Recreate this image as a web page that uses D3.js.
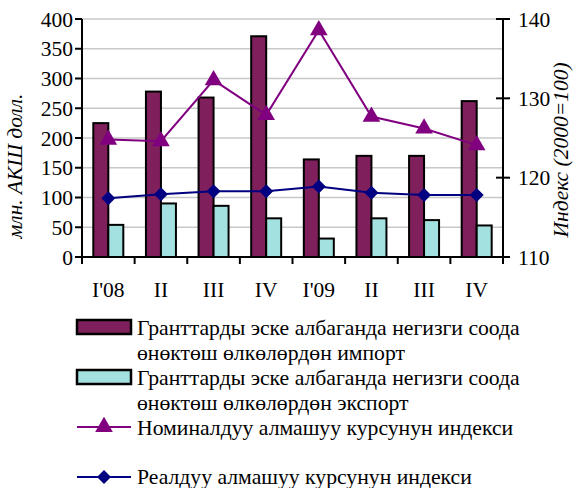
<!DOCTYPE html>
<html><head><meta charset="utf-8">
<script src="https://cdn.jsdelivr.net/npm/d3@7"></script>
<style>body{margin:0;background:#fff}svg{display:block}text{font-family:"Liberation Serif","Times New Roman",serif;fill:#000}</style>
</head><body><svg id="c" width="573" height="488"></svg>
<script>
const categories = ["I'08","II","III","IV","I'09","II","III","IV"];
const importVals = [225, 278, 268, 371, 164, 170, 170, 262];
const exportVals = [54, 90, 86, 65, 31, 65, 62, 53];
const nominalIdx = [124.8, 124.6, 132.3, 127.9, 138.6, 127.7, 126.2, 124.1];
const realIdx = [117.4, 117.9, 118.3, 118.3, 118.9, 118.1, 117.8, 117.8];
const leftTicks = [0,50,100,150,200,250,300,350,400];
const rightTicks = [110,120,130,140];
const legendLabels = [
  ["Гранттарды эске албаганда негизги соода","өнөктөш өлкөлөрдөн импорт"],
  ["Гранттарды эске албаганда негизги соода","өнөктөш өлкөлөрдөн экспорт"],
  ["Номиналдуу алмашуу курсунун индекси"],
  ["Реалдуу алмашуу курсунун индекси"]
];
const colImport = "#7f1f5c", colExport = "#a3e1e1", colNom = "#800080", colReal = "#000080";

const svg = d3.select("#c");
const L = 82, R = 503, T = 19, B = 257;
const x = d3.scaleBand().domain(d3.range(categories.length)).range([L, R]).paddingInner(0).paddingOuter(0);
const yL = d3.scaleLinear().domain([0,400]).range([B,T]);
const yR = d3.scaleLinear().domain([110,140]).range([B,T]);
const bw = 15;

// gridlines
svg.append("g").selectAll("line").data(leftTicks.filter(d=>d>0)).join("line")
  .attr("x1",L).attr("x2",R).attr("y1",d=>yL(d)).attr("y2",d=>yL(d))
  .attr("stroke","#c8c8c8").attr("stroke-width",1.5);

// bars
const gb = svg.append("g");
gb.selectAll(".imp").data(importVals).join("rect")
  .attr("x",(d,i)=>x(i)+x.bandwidth()/2-bw).attr("width",bw)
  .attr("y",d=>yL(d)).attr("height",d=>B-yL(d))
  .attr("fill",colImport).attr("stroke","#000").attr("stroke-width",2);
gb.selectAll(".exp").data(exportVals).join("rect")
  .attr("x",(d,i)=>x(i)+x.bandwidth()/2).attr("width",bw)
  .attr("y",d=>yL(d)).attr("height",d=>B-yL(d))
  .attr("fill",colExport).attr("stroke","#000").attr("stroke-width",2);

// axes
const ax = svg.append("g").attr("stroke","#000").attr("stroke-width",2);
ax.append("line").attr("x1",L).attr("x2",L).attr("y1",T).attr("y2",B);
ax.append("line").attr("x1",R).attr("x2",R).attr("y1",T).attr("y2",B);
ax.append("line").attr("x1",L-7).attr("x2",R+7).attr("y1",B).attr("y2",B);
ax.selectAll(".lt").data(leftTicks).join("line").attr("x1",L-7).attr("x2",L).attr("y1",d=>yL(d)).attr("y2",d=>yL(d));
ax.selectAll(".rt").data(rightTicks).join("line").attr("x1",R-7).attr("x2",R+7).attr("y1",d=>yR(d)).attr("y2",d=>yR(d));
ax.selectAll(".xt").data(d3.range(categories.length+1)).join("line")
  .attr("x1",i=>L+i*x.bandwidth()).attr("x2",i=>L+i*x.bandwidth()).attr("y1",B).attr("y2",B+7);

const fs = 21.5;
svg.append("g").selectAll("text").data(leftTicks).join("text")
  .attr("x",L-9).attr("y",d=>yL(d)).attr("dy","0.35em").attr("text-anchor","end")
  .attr("font-size",fs).text(d=>d);
svg.append("g").selectAll("text").data(rightTicks).join("text")
  .attr("x",R+15).attr("y",d=>yR(d)).attr("dy","0.35em").attr("text-anchor","start")
  .attr("font-size",fs).text(d=>d);
svg.append("g").selectAll("text").data(categories).join("text")
  .attr("x",(d,i)=>x(i)+x.bandwidth()/2).attr("y",297).attr("text-anchor","middle")
  .attr("font-size",fs).text(d=>d);

svg.append("text").attr("transform","translate(22,166) rotate(-90)").attr("text-anchor","middle")
  .attr("font-size",fs).attr("font-style","italic").text("млн. АКШ  долл.");
svg.append("text").attr("transform","translate(561,150) rotate(-90)").attr("text-anchor","middle")
  .attr("dy","0.32em").attr("font-size",fs).attr("font-style","italic").text("Индекс (2000=100)");

// lines
const cx = i=>x(i)+x.bandwidth()/2;
svg.append("path").datum(nominalIdx).attr("fill","none").attr("stroke",colNom).attr("stroke-width",2)
  .attr("d",d3.line().x((d,i)=>cx(i)).y(d=>yR(d)));
svg.append("g").selectAll("path").data(nominalIdx).join("path")
  .attr("transform",(d,i)=>`translate(${cx(i)},${yR(d)})`)
  .attr("d",d3.symbol(d3.symbolTriangle,135)).attr("fill",colNom);
svg.append("path").datum(realIdx).attr("fill","none").attr("stroke",colReal).attr("stroke-width",2)
  .attr("d",d3.line().x((d,i)=>cx(i)).y(d=>yR(d)));
svg.append("g").selectAll("path").data(realIdx).join("path")
  .attr("transform",(d,i)=>`translate(${cx(i)},${yR(d)}) rotate(45)`)
  .attr("d",d3.symbol(d3.symbolSquare,98)).attr("fill",colReal);

// legend
const lg = svg.append("g");
const lx = 77, tx = 137;
lg.append("rect").attr("x",lx).attr("y",320).attr("width",54).attr("height",14).attr("fill",colImport).attr("stroke","#000").attr("stroke-width",2.5);
lg.append("rect").attr("x",lx).attr("y",370).attr("width",54).attr("height",14).attr("fill",colExport).attr("stroke","#000").attr("stroke-width",2.5);
lg.append("line").attr("x1",lx).attr("x2",lx+54).attr("y1",427).attr("y2",427).attr("stroke",colNom).attr("stroke-width",2);
lg.append("path").attr("transform",`translate(${lx+27},427)`).attr("d",d3.symbol(d3.symbolTriangle,135)).attr("fill",colNom);
lg.append("line").attr("x1",lx).attr("x2",lx+54).attr("y1",477).attr("y2",477).attr("stroke",colReal).attr("stroke-width",2);
lg.append("path").attr("transform",`translate(${lx+27},477) rotate(45)`).attr("d",d3.symbol(d3.symbolSquare,98)).attr("fill",colReal);
const baselines = [[335,360],[385,410],[435],[484]];
legendLabels.forEach((lines,k)=>lines.forEach((t,j)=>{
  lg.append("text").attr("x",tx).attr("y",baselines[k][j]).attr("font-size",21.7).text(t);
}));
</script></body></html>
